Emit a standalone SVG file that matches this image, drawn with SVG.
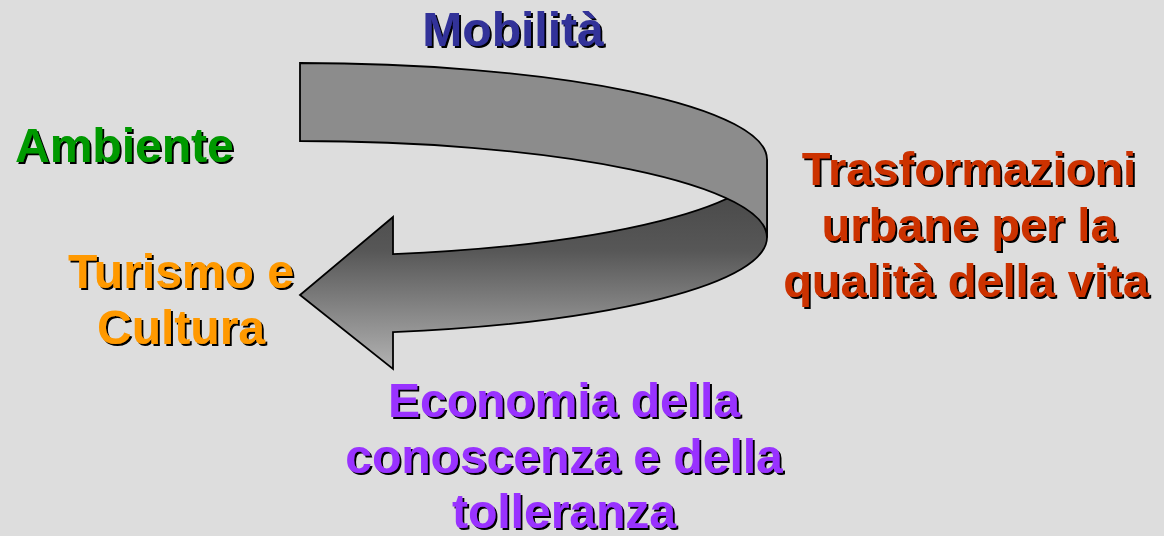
<svg xmlns="http://www.w3.org/2000/svg" width="1164" height="536" viewBox="0 0 1164 536">
<defs>
<linearGradient id="frontGrad" gradientUnits="userSpaceOnUse" x1="0" y1="200" x2="0" y2="369">
<stop offset="0" stop-color="#4b4b4b"/>
<stop offset="0.3" stop-color="#575757"/>
<stop offset="1" stop-color="#b3b3b3"/>
</linearGradient>
<filter id="shadow" x="-5%" y="-10%" width="110%" height="130%">
<feDropShadow dx="2" dy="2" stdDeviation="0" flood-color="#000" flood-opacity="1"/>
</filter>
</defs>
<style>
.lbl{font-family:"Liberation Sans",Arial,sans-serif;font-weight:bold;font-size:48px;text-anchor:middle;filter:url(#shadow)}
.red{font-size:47px}
.band{stroke:#000;stroke-width:1.8;stroke-linejoin:miter}
</style>
<rect x="0" y="0" width="1164" height="536" fill="#dddddd"/>
<g id="connectors">
<path id="arrow-front" class="band" fill="url(#frontGrad)" d="M 767,159.5 A 467 96.5 0 0 1 393,254.1 L 393,217 L 300,295 L 393,369 L 393,332.1 A 467 96.5 0 0 0 767,237.5 Z"/>
<path id="arrow-back" class="band" fill="#8c8c8c" d="M 300,63 A 467 96.5 0 0 1 767,159.5 L 767,237.5 A 467 96.5 0 0 0 300,141 Z"/>
</g>
<g id="mobilita">
<text class="lbl" x="513" y="46" fill="#333399">Mobilità</text>
</g>
<g id="ambiente">
<text class="lbl" x="15" y="162" fill="#009900" style="text-anchor:start">Ambiente</text>
</g>
<g id="turismo">
<text class="lbl" fill="#ff9900"><tspan x="181" y="288">Turismo e</tspan><tspan x="181" y="344">Cultura</tspan></text>
</g>
<g id="trasformazioni">
<text class="lbl red" fill="#cc3300"><tspan x="969" y="185">Trasformazioni</tspan><tspan x="969" y="241">urbane per la</tspan><tspan x="966" y="297">qualità della vita</tspan></text>
</g>
<g id="economia">
<text class="lbl" fill="#9933ff"><tspan x="564" y="417">Economia della</tspan><tspan x="564" y="473">conoscenza e della</tspan><tspan x="564" y="528">tolleranza</tspan></text>
</g>
</svg>
